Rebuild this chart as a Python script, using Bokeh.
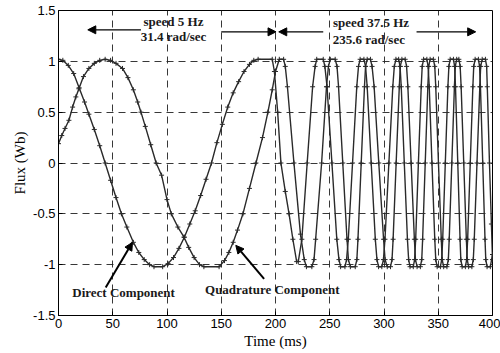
from bokeh.plotting import figure
from bokeh.models import Range1d, FixedTicker, Arrow, NormalHead, CustomJSTickFormatter
from bokeh.core.properties import value
from bokeh.embed import file_html
from bokeh.resources import INLINE

# ---------------- data ----------------
x_ticks = [0, 50, 100, 150, 200, 250, 300, 350, 400]
y_ticks = [-1.5, -1, -0.5, 0, 0.5, 1, 1.5]

direct_t = [0, 4, 9, 14, 19, 24, 28, 33, 38, 43, 48, 53, 58, 63, 69, 74, 79, 84, 88, 96,
            101, 106, 111, 116, 121, 126, 131, 136, 141, 146, 151, 156, 161, 166, 171, 176, 180, 184, 197,
            199, 202, 205, 209, 212.5, 216, 219.5, 221, 224.3, 229.2, 234.2, 236.5, 238, 244, 245.5,
            247.5, 252, 256.5, 258.5, 260, 264, 265.5, 267.1, 271, 274.9, 276.5, 278, 281.5, 283,
            284.5, 288.2, 292, 293.5, 295, 298, 299.5, 300.9, 304.5, 308.1, 309.5, 311, 313.5, 314.8,
            315.9, 318.7, 321.6, 322.7, 324, 327, 328.2, 329.2, 331.7, 334.3, 335.2, 336.5, 339.5, 340.7,
            341.7, 344.2, 346.8, 347.7, 349, 352, 353.2, 354.1, 356.5, 358.9, 359.8, 361, 364, 365.1,
            365.9, 368, 370.1, 370.8, 372, 375, 376.2, 377.1, 379.5, 381.9, 382.7, 384, 387, 388.1,
            388.9, 391, 393.1, 393.8, 395, 398, 400]
direct_flux = [1.02, 1.01, 0.96, 0.88, 0.74, 0.6, 0.48, 0.33, 0.17, 0.0, -0.17, -0.34, -0.5, -0.63, -0.78, -0.88, -0.95, -1.0, -1.02, -1.02,
               -0.99, -0.93, -0.84, -0.73, -0.6, -0.47, -0.32, -0.16, 0.0, 0.2, 0.38, 0.55, 0.69, 0.8, 0.9, 0.97, 1.01, 1.02, 1.02,
               0.9, 0.5, 0.0, -0.28, -0.5, -0.75, -0.97, -0.97, -0.75, 0.0, 0.75, 0.95, 1.02, 1.02, 0.95,
               0.75, 0.0, -0.75, -0.95, -1.02, -1.02, -0.95, -0.75, 0.0, 0.75, 0.95, 1.02, 1.02, 0.95,
               0.75, 0.0, -0.75, -0.95, -1.02, -1.02, -0.95, -0.75, 0.0, 0.75, 0.95, 1.02, 1.02, 0.95,
               0.75, 0.0, -0.75, -0.95, -1.02, -1.02, -0.95, -0.75, 0.0, 0.75, 0.95, 1.02, 1.02, 0.95,
               0.75, 0.0, -0.75, -0.95, -1.02, -1.02, -0.95, -0.75, 0.0, 0.75, 0.95, 1.02, 1.02, 0.95,
               0.75, 0.0, -0.75, -0.95, -1.02, -1.02, -0.95, -0.75, 0.0, 0.75, 0.95, 1.02, 1.02, 0.95,
               0.75, 0.0, -0.75, -0.95, -1.02, -1.02, -0.9]

quad_t = [0, 3, 6, 9.6, 13, 16, 18.8, 23, 28, 33, 38, 43, 48, 53, 59, 64, 69, 73, 76, 80, 85, 90, 95, 100, 104,
          110, 115.7, 120, 125, 130, 134, 148, 153, 157, 161, 165, 170, 176, 182, 188, 193, 197, 200, 203.5, 207.5,
          209, 211, 217, 223, 226.5, 228.5, 233.5, 235.5, 237, 242.5, 247, 248.8, 250.5, 255, 256.7,
          258.1, 262, 265.9, 267.2, 269, 273.5, 275, 276, 279, 282, 283, 284.5, 287.5, 289,
          290.9, 295.2, 299.6, 301, 303, 306, 307.4, 308.4, 311.2, 314.1, 315, 316.5, 319.5, 320.8,
          322, 325, 328, 329, 330.5, 333.5, 334.8, 335.6, 338, 340.4, 341.2, 342.5, 345.5, 346.8,
          347.7, 350.2, 352.8, 353.6, 355, 358, 359.3, 360.1, 362.5, 364.9, 365.7, 367, 369, 370.2,
          371.1, 373.5, 375.9, 376.7, 378, 381, 382.3, 383.2, 385.7, 388.3, 389.1, 390.5, 393.5, 394.6,
          395.2, 397.2, 399, 400]
quad_flux = [0.19, 0.27, 0.34, 0.42, 0.55, 0.65, 0.73, 0.85, 0.93, 0.98, 1.01, 1.02, 1.01, 0.98, 0.93, 0.84, 0.72, 0.6, 0.5, 0.36, 0.18, 0.0, -0.12, -0.36, -0.5,
             -0.63, -0.73, -0.83, -0.93, -1.0, -1.02, -1.02, -0.96, -0.88, -0.78, -0.66, -0.5, -0.25, 0.0, 0.25, 0.5, 0.72, 0.9, 1.02, 1.02,
             0.95, 0.75, 0.0, -0.7, -0.95, -1.02, -1.02, -0.95, -0.75, 0.0, 0.75, 0.95, 1.02, 1.02, 0.95,
             0.75, 0.0, -0.75, -0.95, -1.02, -1.02, -0.95, -0.75, 0.0, 0.75, 0.95, 1.02, 1.02, 0.95,
             0.75, 0.0, -0.75, -0.95, -1.02, -1.02, -0.95, -0.75, 0.0, 0.75, 0.95, 1.02, 1.02, 0.95,
             0.75, 0.0, -0.75, -0.95, -1.02, -1.02, -0.95, -0.75, 0.0, 0.75, 0.95, 1.02, 1.02, 0.95,
             0.75, 0.0, -0.75, -0.95, -1.02, -1.02, -0.95, -0.75, 0.0, 0.75, 0.95, 1.02, 1.02, 0.95,
             0.75, 0.0, -0.75, -0.95, -1.02, -1.02, -0.95, -0.75, 0.0, 0.75, 0.95, 1.02, 1.02, 0.95,
             0.75, 0.0, -0.6, -0.95]

# ---------------- figure ----------------
p = figure(width=500, height=353, output_backend="svg", toolbar_location=None,
           x_range=Range1d(0, 400), y_range=Range1d(-1.5, 1.5),
           min_border_left=58, min_border_right=8, min_border_top=10, min_border_bottom=38)
p.background_fill_color = "white"
p.border_fill_color = "white"
p.outline_line_color = "black"
p.outline_line_width = 1
p.outline_line_alpha = 1

for g in (p.xgrid, p.ygrid):
    g.grid_line_color = "#222222"
    g.grid_line_dash = "7 5"
    g.grid_line_width = 1
    g.grid_line_alpha = 0.9
p.xgrid.ticker = FixedTicker(ticks=x_ticks)
p.ygrid.ticker = FixedTicker(ticks=y_ticks)

p.xaxis.ticker = FixedTicker(ticks=x_ticks)
p.yaxis.ticker = FixedTicker(ticks=y_ticks)
p.yaxis.formatter = CustomJSTickFormatter(code="return tick.toString();")
p.xaxis.formatter = CustomJSTickFormatter(code="return tick.toString();")
for ax in (p.xaxis, p.yaxis):
    ax.axis_line_color = "black"
    ax.major_tick_in = 4
    ax.major_tick_out = 0
    ax.minor_tick_line_color = None
    ax.major_label_text_font = "Liberation Sans"
    ax.major_label_text_font_size = "13px"
    ax.major_label_text_color = "black"
    ax.major_label_standoff = 3
    ax.axis_label_text_font = "Liberation Serif"
    ax.axis_label_text_font_size = "15px"
    ax.axis_label_text_font_style = "normal"
    ax.axis_label_text_color = "black"
    ax.axis_label_standoff = 2
p.xaxis.axis_label = "Time (ms)"
p.yaxis.axis_label = "Flux (Wb)"

# ---------------- curves ----------------
line_col = "#2a2a2a"
p.line(direct_t, direct_flux, line_color=line_col, line_width=1.4)
p.line(quad_t, quad_flux, line_color=line_col, line_width=1.4)
p.scatter(direct_t, direct_flux, marker="cross", size=5, line_color=line_col, line_width=1)
p.scatter(quad_t, quad_flux, marker="cross", size=5, line_color=line_col, line_width=1)

# ---------------- annotations ----------------
txt_kw = dict(text_font=value("Liberation Serif"), text_font_style="bold", text_font_size="13px",
              text_color="#1a1a1a", text_align="center", text_baseline="middle")
p.text(x=[106, 106], y=[1.395, 1.245], text=["speed 5 Hz", "31.4 rad/sec"], **txt_kw)
p.text(x=[288, 286], y=[1.385, 1.21], text=["speed 37.5 Hz", "235.6 rad/sec"], **txt_kw)
p.text(x=[60], y=[-1.275], text=["Direct Component"], **txt_kw)
p.text(x=[197], y=[-1.24], text=["Quadrature Component"], **txt_kw)

def head():
    return NormalHead(size=8, fill_color="black", line_color="black")

p.add_layout(Arrow(end=head(), x_start=76, y_start=1.31, x_end=27, y_end=1.31, line_color="black", line_width=1.2))
p.add_layout(Arrow(end=head(), x_start=150, y_start=1.29, x_end=200.5, y_end=1.29, line_color="black", line_width=1.2))
p.add_layout(Arrow(end=head(), x_start=244, y_start=1.29, x_end=203, y_end=1.29, line_color="black", line_width=1.2))
p.add_layout(Arrow(end=head(), x_start=330, y_start=1.29, x_end=384.5, y_end=1.29, line_color="black", line_width=1.2))
p.add_layout(Arrow(end=head(), x_start=43.5, y_start=-1.225, x_end=68.2, y_end=-0.78, line_color="black", line_width=2))
p.add_layout(Arrow(end=head(), x_start=189.5, y_start=-1.14, x_end=163.4, y_end=-0.81, line_color="black", line_width=2))

open("out.html", "w").write(file_html(p, INLINE))
